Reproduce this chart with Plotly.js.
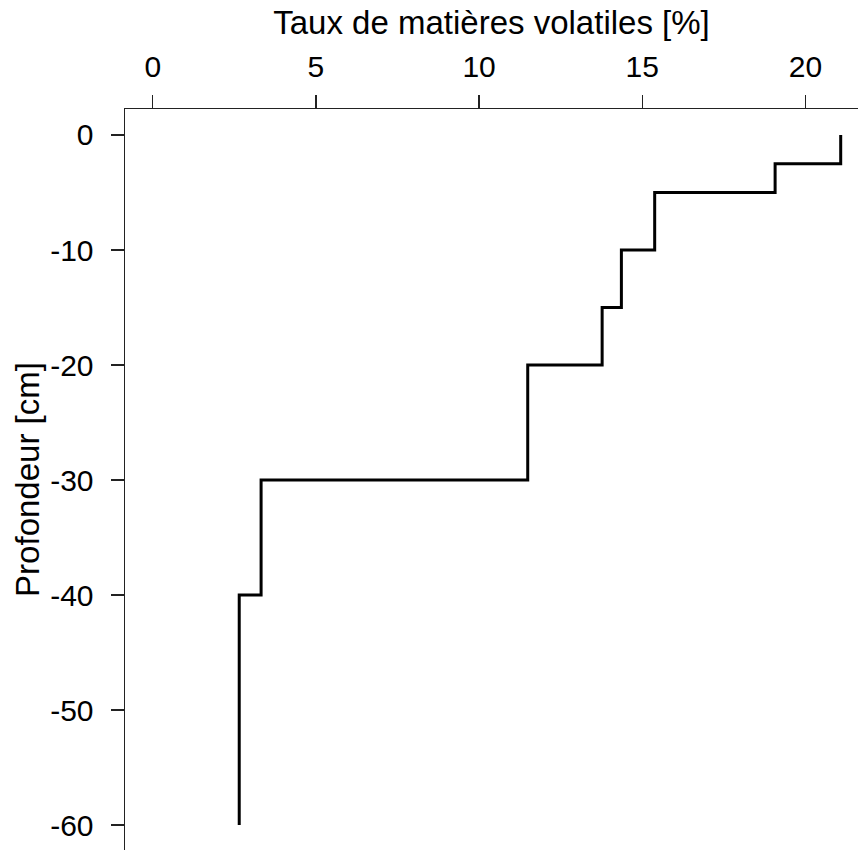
<!DOCTYPE html>
<html>
<head>
<meta charset="utf-8">
<script src="https://cdn.plot.ly/plotly-3.0.1.min.js"></script>
<style>
  html, body { margin: 0; padding: 0; background: #ffffff; }
  #chart { width: 858px; height: 850px; }
</style>
</head>
<body>
<div id="chart"></div>
<script>
// Volatile matter content per soil layer (step profile)
const layerTop    = [0, -2.5, -5, -10, -15, -20, -30, -40];      // cm
const layerBottom = [-2.5, -5, -10, -15, -20, -30, -40, -60];    // cm
const volatiles   = [21.08, 19.07, 15.38, 14.36, 13.77, 11.49, 3.32, 2.65]; // %

const xTicks = [0, 5, 10, 15, 20];
const yTicks = [0, -10, -20, -30, -40, -50, -60];

// Each layer starts at its top depth; the last point closes the deepest layer
const xs = volatiles.concat([volatiles[volatiles.length - 1]]);
const ys = layerTop.concat([layerBottom[layerBottom.length - 1]]);

const family = '"Liberation Sans", Arial, sans-serif';
const tickFont = { family: family, size: 30, color: '#000000' };
const titleFont = { family: family, size: 33, color: '#000000' };

const trace = {
  x: xs,
  y: ys,
  type: 'scatter',
  mode: 'lines',
  line: { shape: 'vh', color: '#000000', width: 3 },
  hoverinfo: 'x+y'
};

const layout = {
  width: 858,
  height: 850,
  margin: { l: 125, r: 0, t: 109, b: 0, pad: 0 },
  paper_bgcolor: '#ffffff',
  plot_bgcolor: '#ffffff',
  showlegend: false,
  font: tickFont,
  xaxis: {
    side: 'top',
    range: [-0.85, 21.61],
    tickvals: xTicks,
    ticktext: xTicks.map(String),
    ticks: 'outside',
    ticklen: 13,
    tickwidth: 1.5,
    tickcolor: '#222222',
    ticklabelstandoff: 6,
    showline: true,
    linecolor: '#222222',
    linewidth: 1.5,
    showgrid: false,
    zeroline: false,
    tickfont: tickFont,
    title: { text: 'Taux de matières volatiles [%]', font: titleFont, standoff: 5 }
  },
  yaxis: {
    range: [-62.17, 2.26],
    tickvals: yTicks,
    ticktext: yTicks.map(String),
    ticks: 'outside',
    ticklen: 13,
    tickwidth: 1.5,
    tickcolor: '#222222',
    ticklabelstandoff: 11,
    showline: true,
    linecolor: '#222222',
    linewidth: 1.5,
    showgrid: false,
    zeroline: false,
    tickfont: tickFont,
    title: { text: 'Profondeur [cm]', font: titleFont, standoff: 0 }
  }
};

Plotly.newPlot('chart', [trace], layout, { displayModeBar: false, staticPlot: true });
</script>
</body>
</html>
